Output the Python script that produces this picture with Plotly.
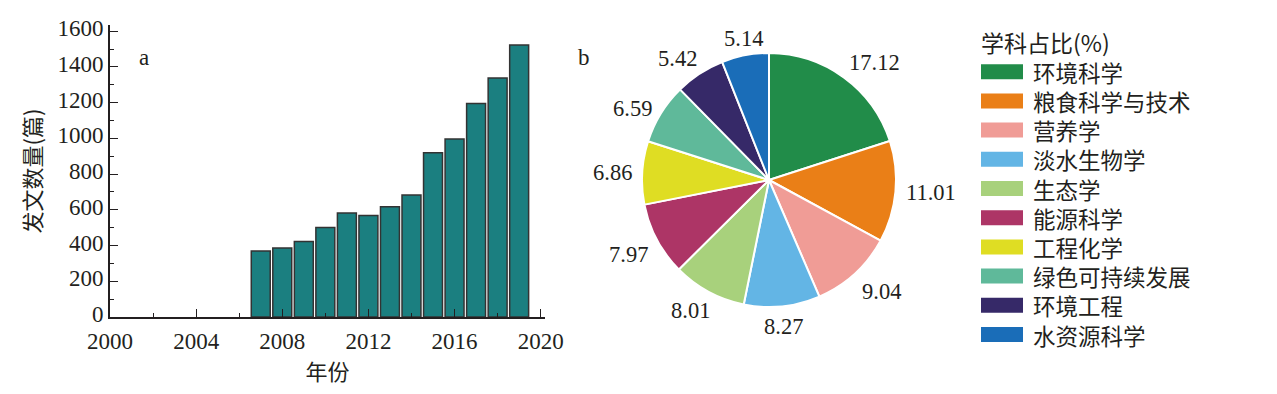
import math
import plotly.graph_objects as go

# ---- data ----
years = [2007, 2008, 2009, 2010, 2011, 2012, 2013, 2014, 2015, 2016, 2017, 2018, 2019]
papers = [370, 386, 423, 501, 582, 569, 617, 683, 919, 997, 1196, 1338, 1523]

subjects = ["环境科学", "粮食科学与技术", "营养学", "淡水生物学", "生态学",
            "能源科学", "工程化学", "绿色可持续发展", "环境工程", "水资源科学"]
shares = [17.12, 11.01, 9.04, 8.27, 8.01, 7.97, 6.86, 6.59, 5.42, 5.14]
colors = ["#218c49", "#ea7f17", "#f09c96", "#63b5e5", "#a8d17c",
          "#ad3566", "#dfdd23", "#5fb99a", "#362968", "#1a6db8"]

x_ticks = [2000, 2004, 2008, 2012, 2016, 2020]
y_ticks = [0, 200, 400, 600, 800, 1000, 1200, 1400, 1600]

W, H = 1277, 394
SERIF = "Liberation Serif, Noto Sans CJK SC"
CJK = "Noto Sans CJK SC"
INK = "#231f20"

# pie placement (pixels)
PCX, PCY, PR = 769, 180, 127
LABEL_SIZE = 22.5

fig = go.Figure()

fig.add_trace(go.Bar(
    x=years, y=papers, width=0.88,
    marker=dict(color="#1b7f80", line=dict(color="#333333", width=1.5)),
    showlegend=False, xaxis="x", yaxis="y",
))

fig.add_trace(go.Pie(
    labels=subjects, values=shares, sort=False, direction="clockwise", rotation=0,
    marker=dict(colors=colors, line=dict(color="white", width=2)),
    textinfo="none",
    domain=dict(x=[(PCX - PR) / W, (PCX + PR) / W], y=[1 - (PCY + PR) / H, 1 - (PCY - PR) / H]),
    showlegend=False, hoverinfo="label+value",
))

annotations = [
    dict(text="a", x=137 / W, y=1 - 43 / H, xref="paper", yref="paper", showarrow=False,
         font=dict(family=SERIF, size=23, color=INK)),
    dict(text="b", x=584 / W, y=1 - 43 / H, xref="paper", yref="paper", showarrow=False,
         font=dict(family=SERIF, size=23, color=INK)),
]

# pie value labels placed just outside each slice at its mid-angle
total = sum(shares)
cum = 0.0
for v in shares:
    mid = (cum + v / 2) / total * 2 * math.pi
    cum += v
    s, c = math.sin(mid), math.cos(mid)
    r = 137
    px, py = PCX + r * s, PCY - r * c
    txt = f"{v:.2f}"
    w = (len(txt) - 1) * 0.5 * LABEL_SIZE + 0.25 * LABEL_SIZE
    f = max(0.0, min(1.0, (abs(s) - 0.2) / 0.4)) * (1 if s > 0 else -1)
    cx = px + f * w / 2
    cy = py - 7 if c > 0.7 else (py + 10 if c < -0.4 else py)
    annotations.append(dict(
        text=txt, x=cx / W, y=1 - cy / H,
        xref="paper", yref="paper", showarrow=False, xanchor="center", yanchor="middle",
        font=dict(family=SERIF, size=LABEL_SIZE, color=INK),
    ))

# legend drawn as title + colour bars + labels
shapes = []
annotations.append(dict(
    text="学科占比(%)", x=979 / W, y=1 - 42 / H, xref="paper", yref="paper",
    showarrow=False, xanchor="left", yanchor="middle",
    font=dict(family=CJK, size=23, color=INK),
))
for i, (name, col) in enumerate(zip(subjects, colors)):
    yc = 71.7 + i * 29.2
    shapes.append(dict(type="rect", xref="paper", yref="paper",
                       x0=981 / W, x1=1023 / W, y0=1 - (yc - 7.5) / H, y1=1 - (yc + 7.5) / H,
                       fillcolor=col, line=dict(width=0)))
    annotations.append(dict(
        text=name, x=1031 / W, y=1 - yc / H, xref="paper", yref="paper",
        showarrow=False, xanchor="left", yanchor="middle",
        font=dict(family=CJK, size=22.5, color=INK),
    ))

fig.update_layout(
    width=W, height=H,
    margin=dict(l=0, r=0, t=0, b=0, autoexpand=False),
    paper_bgcolor="white", plot_bgcolor="white",
    font=dict(family=SERIF, size=22, color=INK),
    showlegend=False,
    xaxis=dict(
        domain=[110 / W, 545 / W], range=[2000, 2020.2],
        tickvals=x_ticks, ticks="inside", ticklen=8, tickwidth=1.3, tickcolor=INK,
        minor=dict(dtick=2, tick0=2000, ticks="inside", ticklen=4, tickcolor=INK),
        showline=True, linecolor=INK, linewidth=2, showgrid=False, zeroline=False,
        tickfont=dict(family=SERIF, size=23, color=INK), ticklabelstandoff=2,
        title=dict(text="年份", font=dict(family=CJK, size=22, color=INK), standoff=0),
    ),
    yaxis=dict(
        domain=[1 - 317 / H, 1 - 25 / H], range=[0, 1635],
        tickvals=y_ticks, ticks="inside", ticklen=8, tickwidth=1.3, tickcolor=INK,
        minor=dict(dtick=100, tick0=0, ticks="inside", ticklen=4, tickcolor=INK),
        showline=True, linecolor=INK, linewidth=2, showgrid=False, zeroline=False,
        tickfont=dict(family=SERIF, size=23, color=INK), ticklabelshift=-3,
        title=dict(text="发文数量(篇)", font=dict(family=CJK, size=22, color=INK), standoff=10),
    ),
    shapes=shapes,
    annotations=annotations,
)

fig.write_html("out.html", config={"displayModeBar": False},
               post_script="document.body.style.margin='0';document.body.style.overflow='hidden';")
